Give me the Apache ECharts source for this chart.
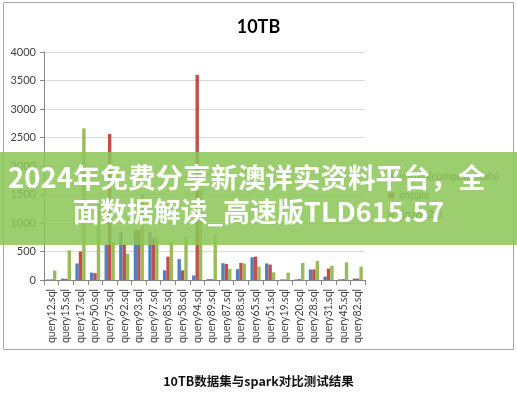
<!DOCTYPE html>
<html>
<head>
<meta charset="utf-8">
<script src="https://cdn.jsdelivr.net/npm/echarts@6/dist/echarts.min.js"></script>
<style>
html,body{margin:0;padding:0;background:#fff;}
#c{width:517px;height:396px;}
</style>
</head>
<body>
<div id="c"></div>
<script>
const categories = ['query12.sql','query15.sql','query17.sql','query50.sql','query75.sql','query92.sql','query93.sql','query97.sql','query85.sql','query58.sql','query94.sql','query89.sql','query87.sql','query88.sql','query65.sql','query51.sql','query19.sql','query20.sql','query28.sql','query31.sql','query45.sql','query82.sql'];
const seriesNames = ['impala(compute stats)', 'impala', 'Spark 2.0'];
const impalaStats = [10, 25, 290, 130, 620, 840, 880, 840, 170, 365, 80, 15, 295, 190, 400, 290, 10, 10, 185, 60, 10, 25];
const impala      = [10, 20, 500, 120, 2560, 620, 870, 740, 410, 170, 3600, 15, 280, 300, 410, 270, 10, 15, 185, 200, 15, 25];
const spark       = [165, 520, 2660, 1350, 660, 460, 1500, 760, 665, 760, 1580, 800, 195, 290, 235, 135, 130, 300, 335, 250, 310, 235];
const yTicks = [0, 500, 1000, 1500, 2000, 2500, 3000, 3500, 4000];
const titleText = '10TB';
const captionText = '10TB数据集与spark对比测试结果';
const bannerLines = ['2024年免费分享新澳详实资料平台，全', '面数据解读_高速版TLD615.57'];

const colors = ['#4F81BD', '#C0504D', '#9BBB59'];
const chart = echarts.init(document.getElementById('c'), null, {renderer: 'canvas'});
const mk = (name, data, i) => ({
  name: name, type: 'bar', data: data,
  barGap: '0%', barCategoryGap: '30%',
  itemStyle: {color: colors[i]},
  emphasis: {disabled: true}
});
chart.setOption({
  animation: false,
  title: {
    text: titleText, left: 'center', top: 13,
    textStyle: {fontFamily: 'Lato', fontWeight: 'bold', fontSize: 18, color: '#000'}
  },
  legend: {
    orient: 'vertical', left: 383, top: 166,
    itemWidth: 6, itemHeight: 6, itemGap: 8,
    icon: 'rect',
    textStyle: {fontFamily: 'Lato', fontSize: 10.5, color: '#404040'},
    data: seriesNames
  },
  grid: {left: 44, right: 152, top: 52, bottom: 116, containLabel: false},
  xAxis: {
    type: 'category', data: categories,
    axisLine: {lineStyle: {color: '#868686'}},
    axisTick: {show: true, length: 5, alignWithLabel: false, lineStyle: {color: '#868686'}},
    axisLabel: {rotate: 90, fontFamily: 'Lato', fontSize: 10.5, color: '#404040', margin: 9, interval: 0}
  },
  yAxis: {
    type: 'value', min: yTicks[0], max: yTicks[yTicks.length - 1], interval: 500,
    axisLine: {show: true, lineStyle: {color: '#868686'}},
    axisTick: {show: true, length: 4, lineStyle: {color: '#868686'}},
    axisLabel: {fontFamily: 'Lato', fontSize: 11, color: '#404040', margin: 8, formatter: v => String(v)},
    splitLine: {lineStyle: {color: '#d9d9d9'}}
  },
  series: [mk(seriesNames[0], impalaStats, 0), mk(seriesNames[1], impala, 1), mk(seriesNames[2], spark, 2)],
  graphic: [
    {type: 'rect', z: -1, shape: {x: 3.5, y: 2.5, width: 510, height: 347},
     style: {fill: 'none', stroke: '#a6a6a6', lineWidth: 1}},
    {type: 'text', left: 'center', top: 375, z: 10,
     style: {text: captionText, font: 'bold 12.5px "Noto Sans CJK SC"', fill: '#111'}},
    {type: 'rect', z: 100, shape: {x: 0, y: 152, width: 517, height: 93},
     style: {fill: 'rgba(140,198,88,0.86)'}},
    {type: 'text', z: 101, left: 8, top: 164,
     style: {text: bannerLines[0], font: 'bold 27.5px "Noto Sans CJK SC"', fill: '#fff'}},
    {type: 'text', z: 101, left: 'center', top: 198,
     style: {text: bannerLines[1], font: 'bold 27px "Noto Sans CJK SC"', fill: '#fff'}}
  ]
});
</script>
</body>
</html>
